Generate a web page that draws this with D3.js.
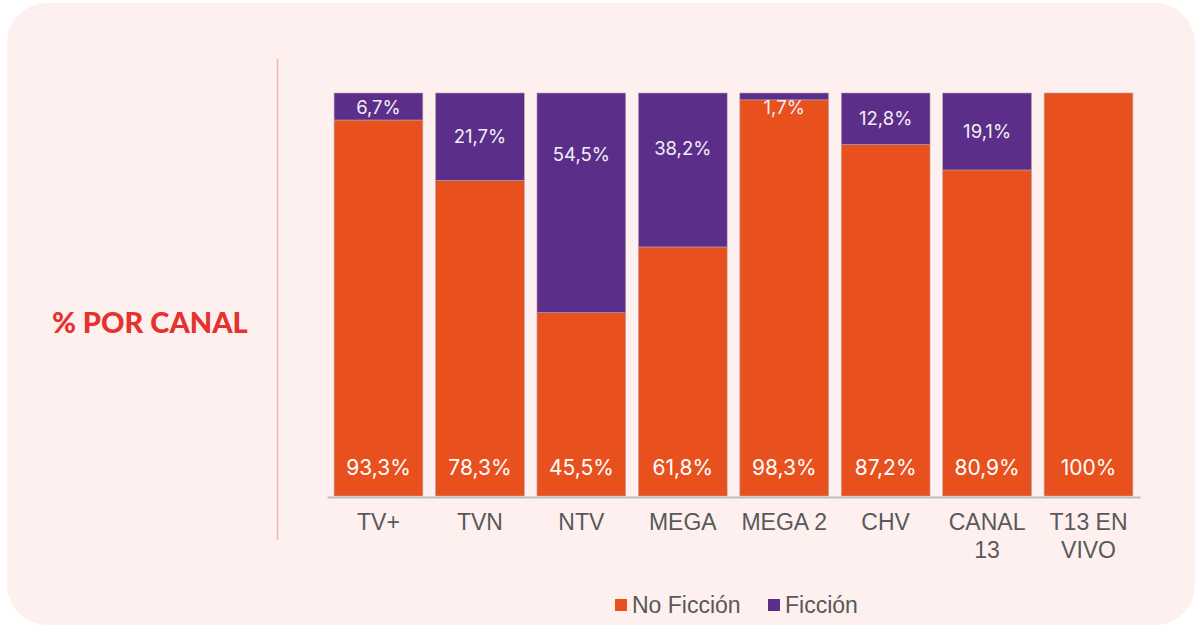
<!DOCTYPE html>
<html>
<head>
<meta charset="utf-8">
<script src="https://cdn.jsdelivr.net/npm/d3@7"></script>
<style>
  body { margin: 0; background: #ffffff; }
  svg { display: block; }
</style>
</head>
<body>
<svg id="chart" width="1201" height="628"></svg>
<script>
// Data
const canales = ["TV+", "TVN", "NTV", "MEGA", "MEGA 2", "CHV", "CANAL 13", "T13 EN VIVO"]
const noFiccion = [93.3, 78.3, 45.5, 61.8, 98.3, 87.2, 80.9, 100]
const ficcion = [6.7, 21.7, 54.5, 38.2, 1.7, 12.8, 19.1, 0]
const series = ["No Ficción", "Ficción"]
const colores = ["#e8511e", "#5b2e8a"]

const width = 1201
const height = 628
const svg = d3.select("#chart")

// card background
svg.append("rect")
  .attr("x", 7).attr("y", 3)
  .attr("width", 1188).attr("height", 622)
  .attr("rx", 40)
  .attr("fill", "#fdf0ef")

// side title and separator
svg.append("text")
  .attr("x", 52).attr("y", 323)
  .attr("dy", "0.35em")
  .attr("fill", "#e5322d")
  .attr("font-family", "Lato, 'Open Sans', sans-serif")
  .attr("font-weight", "900")
  .attr("font-size", 29)
  .text("% POR CANAL")

svg.append("line")
  .attr("x1", 277.5).attr("x2", 277.5)
  .attr("y1", 59).attr("y2", 540)
  .attr("stroke", "#f2b5ac")
  .attr("stroke-width", 1.5)

const x = d3.scaleBand()
  .domain(canales)
  .range([327, 1140])
  .paddingInner(0.125)
  .paddingOuter(0.07)

const y = d3.scaleLinear()
  .domain([0, 100])
  .range([496, 93])

const rows = canales.map((c, i) => ({ canal: c, "No Ficción": noFiccion[i], "Ficción": ficcion[i] }))
const stacked = d3.stack().keys(series)(rows)
const color = d3.scaleOrdinal().domain(series).range(colores)

const layer = svg.append("g")
  .selectAll("g")
  .data(stacked)
  .enter().append("g")
  .attr("fill", function(d) { return color(d.key) })

layer.selectAll("rect")
  .data(function(d) { return d })
  .enter().append("rect")
  .attr("x", function(d) { return x(d.data.canal) })
  .attr("width", x.bandwidth())
  .attr("y", function(d) { return y(d[1]) })
  .attr("height", function(d) { return y(d[0]) - y(d[1]) })
  .attr("stroke", "#b9a3ab")
  .attr("stroke-width", 0.6)

// labels for No Ficción, near the bottom
svg.append("g")
  .selectAll("text")
  .data(rows)
  .enter().append("text")
  .attr("x", function(d) { return x(d.canal) + x.bandwidth() / 2 })
  .attr("y", y(0) - 28)
  .attr("dy", "0.35em")
  .attr("text-anchor", "middle")
  .attr("fill", "#ffffff")
  .attr("font-family", "Inter, Lato, sans-serif")
  .attr("font-size", 21)
  .text(function(d) { return d["No Ficción"] === 100 ? "100%" : d3.format(".1f")(d["No Ficción"]).replace(".", ",") + "%" })

// labels for Ficción, inside the purple segment
function fy(d) {
  const top = y(100)
  const segH = y(100 - d["Ficción"]) - top
  const off = Math.max(15, Math.min(segH / 2, 40 + segH * 0.1))
  return top + off
}

svg.append("g")
  .selectAll("text")
  .data(rows.filter(function(d) { return d["Ficción"] > 0 }))
  .enter().append("text")
  .attr("x", function(d) { return x(d.canal) + x.bandwidth() / 2 })
  .attr("y", fy)
  .attr("dy", "0.35em")
  .attr("text-anchor", "middle")
  .attr("fill", "#f3eef6")
  .attr("font-family", "Inter, Lato, sans-serif")
  .attr("font-size", 18.5)
  .text(function(d) { return d3.format(".1f")(d["Ficción"]).replace(".", ",") + "%" })

// x axis
const xAxis = svg.append("g")
  .attr("transform", "translate(0," + (y(0) + 1) + ")")
  .call(d3.axisBottom(x).tickSize(0).tickPadding(17))

xAxis.select(".domain")
  .attr("stroke", "#bfbfbf")
  .attr("stroke-width", 2)

xAxis.selectAll("text")
  .attr("fill", "#595959")
  .attr("font-family", "'Liberation Sans', Arial, sans-serif")
  .attr("font-size", 23)
  .each(function(d) {
    const t = d3.select(this)
    const lines = d === "CANAL 13" ? ["CANAL", "13"] : d === "T13 EN VIVO" ? ["T13 EN", "VIVO"] : [d]
    if (lines.length > 1) {
      t.text(null)
      lines.forEach(function(l, i) {
        t.append("tspan").attr("x", 0).attr("dy", i === 0 ? "0.71em" : "1.2em").text(l)
      })
      t.attr("dy", null)
    }
  })

// legend
const legend = svg.append("g")
  .attr("transform", "translate(615,605)")

const legendX = [0, 153]
series.forEach(function(s, i) {
  const g = legend.append("g").attr("transform", "translate(" + legendX[i] + ",0)")
  g.append("rect")
    .attr("x", 0).attr("y", -6)
    .attr("width", 12).attr("height", 12)
    .attr("fill", color(s))
  g.append("text")
    .attr("x", 17).attr("y", 0)
    .attr("dy", "0.35em")
    .attr("fill", "#595959")
    .attr("font-family", "'Liberation Sans', Arial, sans-serif")
    .attr("font-size", 23)
    .text(s)
})
</script>
</body>
</html>
